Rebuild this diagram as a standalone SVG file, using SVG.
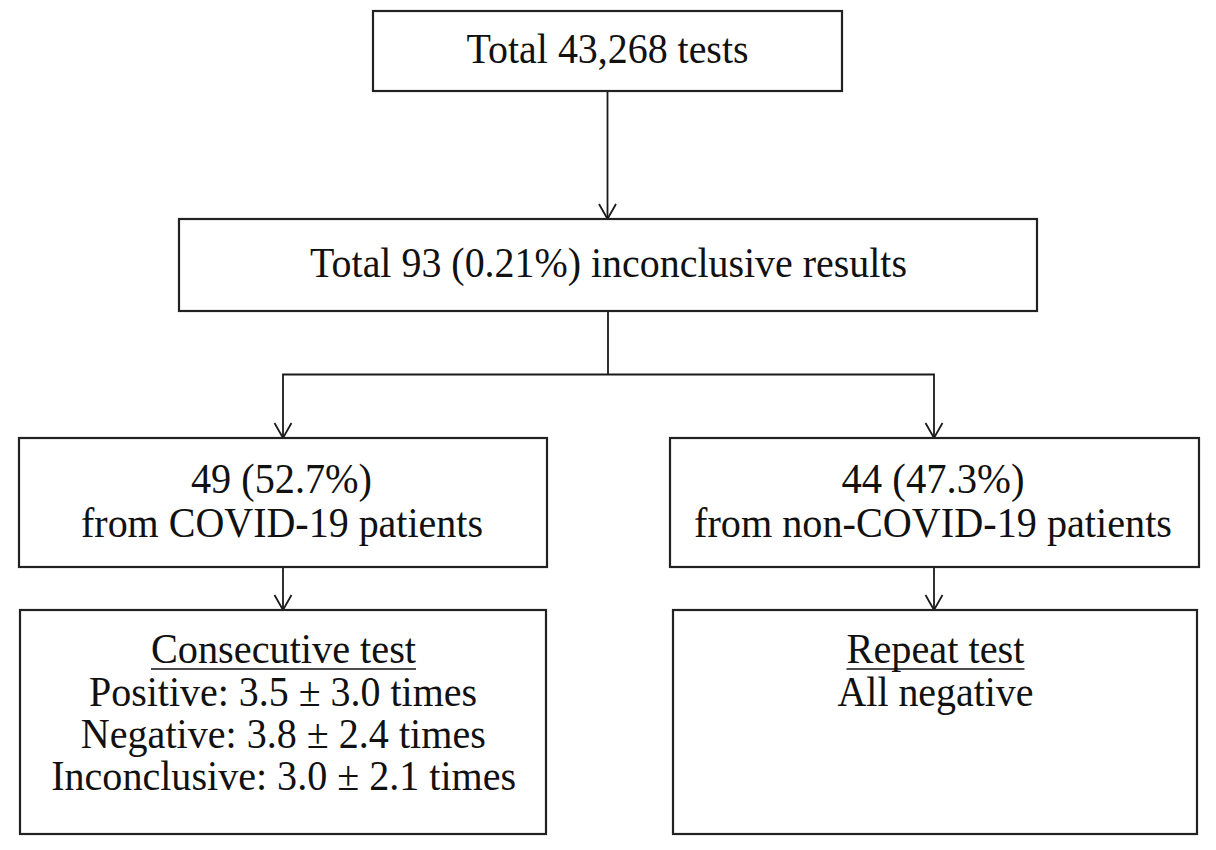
<svg xmlns="http://www.w3.org/2000/svg" width="1216" height="850" viewBox="0 0 1216 850">
  <defs>
    <marker id="arr" viewBox="0 0 20 20" refX="16" refY="10" markerWidth="20" markerHeight="20" markerUnits="userSpaceOnUse" orient="auto">
      <path d="M1,1.5 L16,10 L1,18.5" fill="none" stroke="#1a1a1a" stroke-width="1.8"/>
    </marker>
    <style>
      .box { fill: #ffffff; stroke: #222222; stroke-width: 2.2; }
      .t { font-family: "Liberation Serif", "Times New Roman", serif; font-size: 42px; fill: #111111; text-anchor: middle; }
      .conn { fill: none; stroke: #1a1a1a; stroke-width: 1.8; }
      .ul { stroke: #111111; stroke-width: 1.6; }
    </style>
  </defs>
  <rect x="0" y="0" width="1216" height="850" fill="#ffffff"/>

  <g id="connectors">
    <line class="conn" x1="607.5" y1="91" x2="607.5" y2="219" marker-end="url(#arr)"/>
    <line class="conn" x1="608" y1="311" x2="608" y2="374.5"/>
    <polyline class="conn" points="608,374.5 283,374.5 283,438" marker-end="url(#arr)"/>
    <polyline class="conn" points="608,374.5 934,374.5 934,438" marker-end="url(#arr)"/>
    <line class="conn" x1="283" y1="567" x2="283" y2="610" marker-end="url(#arr)"/>
    <line class="conn" x1="934" y1="567" x2="934" y2="610" marker-end="url(#arr)"/>
  </g>

  <g id="node-total-tests">
    <rect class="box" x="373" y="11" width="469" height="80"/>
    <text class="t" x="607.5" y="63" textLength="282" lengthAdjust="spacingAndGlyphs">Total 43,268 tests</text>
  </g>

  <g id="node-inconclusive">
    <rect class="box" x="179" y="219" width="858" height="92"/>
    <text class="t" x="608.5" y="277" textLength="597" lengthAdjust="spacingAndGlyphs">Total 93 (0.21%) inconclusive results</text>
  </g>

  <g id="node-covid">
    <rect class="box" x="19" y="438" width="528" height="129"/>
    <text class="t" x="281.5" y="493" textLength="181" lengthAdjust="spacingAndGlyphs">49 (52.7%)</text>
    <text class="t" x="282" y="537" textLength="402" lengthAdjust="spacingAndGlyphs">from COVID-19 patients</text>
  </g>

  <g id="node-noncovid">
    <rect class="box" x="670" y="438" width="529" height="129"/>
    <text class="t" x="933" y="493" textLength="183" lengthAdjust="spacingAndGlyphs">44 (47.3%)</text>
    <text class="t" x="933" y="537" textLength="478" lengthAdjust="spacingAndGlyphs">from non-COVID-19 patients</text>
  </g>

  <g id="node-consecutive">
    <rect class="box" x="20" y="610" width="526" height="224"/>
    <text class="t" x="283.5" y="663" textLength="265" lengthAdjust="spacingAndGlyphs">Consecutive test</text>
    <line class="ul" x1="151" y1="669" x2="416" y2="669"/>
    <text class="t" x="283" y="706" textLength="388" lengthAdjust="spacingAndGlyphs">Positive: 3.5 ± 3.0 times</text>
    <text class="t" x="283.3" y="748" textLength="405" lengthAdjust="spacingAndGlyphs">Negative: 3.8 ± 2.4 times</text>
    <text class="t" x="283.7" y="790" textLength="465" lengthAdjust="spacingAndGlyphs">Inconclusive: 3.0 ± 2.1 times</text>
  </g>

  <g id="node-repeat">
    <rect class="box" x="673" y="610" width="524" height="224"/>
    <text class="t" x="935.5" y="663" textLength="178" lengthAdjust="spacingAndGlyphs">Repeat test</text>
    <line class="ul" x1="846.5" y1="669" x2="1024.5" y2="669"/>
    <text class="t" x="935.5" y="706" textLength="196" lengthAdjust="spacingAndGlyphs">All negative</text>
  </g>
</svg>
